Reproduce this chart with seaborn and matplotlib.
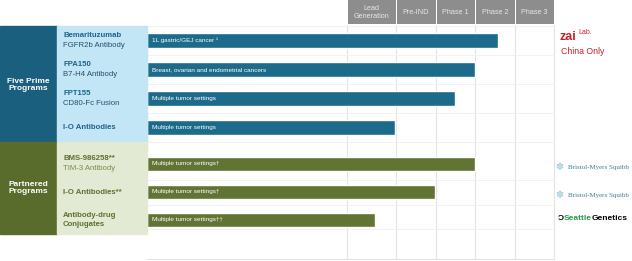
import numpy as np
import pandas as pd
import seaborn as sns
import matplotlib.pyplot as plt
from matplotlib.patches import Rectangle

# ---- data ----
stages = ["Lead\nGeneration", "Pre-IND", "Phase 1", "Phase 2", "Phase 3"]
# stage column edges, in pixels from the start of the indication area
stage_edges = [200, 249, 289, 328, 368, 407]

fp_names = ["Bemarituzumab", "FPA150", "FPT155", "I-O Antibodies"]
fp_subs = ["FGFR2b Antibody", "B7-H4 Antibody", "CD80-Fc Fusion", ""]
fp_ind = ["1L gastric/GEJ cancer \u00b9", "Breast, ovarian and endometrial cancers",
          "Multiple tumor settings", "Multiple tumor settings"]
fp_end = [351, 328, 308, 248]

pp_names = ["BMS-986258**", "I-O Antibodies**", "Antibody-drug\nConjugates"]
pp_subs = ["TIM-3 Antibody", "", ""]
pp_ind = ["Multiple tumor settings\u2020", "Multiple tumor settings\u2020",
          "Multiple tumor settings\u2020\u2020"]
pp_end = [328, 288, 228]

# ---- style ----
W, H = 632, 261
blue_dark, blue_bar, blue_light = "#1a5f7e", "#1d6b8b", "#c3e6f6"
green_dark, green_bar, green_light = "#5a6c2c", "#617434", "#e2ead4"
grid = "#e3e3e3"
sns.set_style("white")
plt.rcParams["font.family"] = ["Liberation Sans", "DejaVu Sans"]

fig = plt.figure(figsize=(W / 100, H / 100), dpi=100)


def px_axes(x0, y0, x1, y1):
    return fig.add_axes([x0 / W, 1 - y1 / H, (x1 - x0) / W, (y1 - y0) / H])


def box(x0, y0, x1, y1, color):
    fig.patches.append(Rectangle((x0 / W, 1 - y1 / H), (x1 - x0) / W, (y1 - y0) / H,
                                 transform=fig.transFigure, color=color, zorder=0))


# left group boxes
box(0, 26, 57, 142, blue_dark)
box(57, 26, 147, 142, blue_light)
box(0, 142, 57, 234, green_dark)
box(57, 142, 147, 234, green_light)
fig.text(28 / W, 1 - 85 / H, "Five Prime\nPrograms", color="white", fontsize=6,
         fontweight="bold", ha="center", va="center", linespacing=1.0)
fig.text(28 / W, 1 - 188 / H, "Partnered\nPrograms", color="white", fontsize=6,
         fontweight="bold", ha="center", va="center", linespacing=1.0)

# background grid axes (pixel units from x=147)
bg = px_axes(147, 0, 632, 261)
bg.set_xlim(0, 485)
bg.set_ylim(261, 0)
bg.axis("off")
for e in stage_edges:
    bg.plot([e, e], [25, 259], color=grid, lw=0.8, zorder=0)
bg.plot([0, stage_edges[-1]], [259, 259], color=grid, lw=0.8, zorder=0)
for y in [26, 55, 84, 113, 142, 180, 205, 229]:
    bg.plot([0, stage_edges[-1]], [y, y], color="#f0f0f0", lw=0.6, zorder=0)
for i, s in enumerate(stages):
    x0, x1 = stage_edges[i], stage_edges[i + 1]
    bg.add_patch(Rectangle((x0 + 0.5, 0), x1 - x0 - 1, 24, color="#8d8d8d", lw=0))
    bg.text((x0 + x1) / 2, 12.5, s, color="#e6e6e6", fontsize=5.2, ha="center",
            va="center", linespacing=1.1)


def draw_group(y0, y1, names, subs, inds, ends, bar_color, name_color, sub_color, hgt):
    ax = px_axes(147, y0, 632, y1)
    df = pd.DataFrame({"program": names, "end": ends})
    sns.barplot(data=df, x="end", y="program", color=bar_color, width=hgt,
                saturation=1, ax=ax)
    ax.set_xlim(0, 485)
    ax.axis("off")
    ax.patch.set_alpha(0)
    for i, t in enumerate(inds):
        ax.text(5, i, t, color="white", fontsize=4.6, va="center", ha="left")
    n = len(names)
    for i, (nm, sb) in enumerate(zip(names, subs)):
        yc = y0 + (y1 - y0) * (i + 0.5) / n
        if sb:
            fig.text(63 / W, 1 - (yc - 5) / H, nm, color=name_color, fontsize=5.6,
                     fontweight="bold", va="center")
            fig.text(63 / W, 1 - (yc + 5) / H, sb, color=sub_color, fontsize=5.6,
                     va="center")
        else:
            fig.text(63 / W, 1 - yc / H, nm, color=name_color, fontsize=5.6,
                     fontweight="bold", va="center", linespacing=1.3)
    return ax


draw_group(26, 142, fp_names, fp_subs, fp_ind, fp_end, blue_bar, "#1d6488", "#24506a", 0.53)
draw_group(150, 234, pp_names, pp_subs, pp_ind, pp_end, green_bar, "#5e7030", "#7a8a4c", 0.52)

# partner logos as text
red = "#c8202b"
zai = fig.text(560 / W, 1 - 37 / H, "zai", color=red, fontsize=9, fontweight="bold",
               va="center")
bg.annotate("Lab.", xy=(1, 0.55), xycoords=zai, xytext=(1, 0), textcoords="offset points",
            color=red, fontsize=5, va="bottom", ha="left", annotation_clip=False)
fig.text(561 / W, 1 - 51 / H, "China Only", color=red, fontsize=6.3, va="center")
for y in [167, 195]:
    fig.text(555 / W, 1 - y / H, "\u273d", color="#a9cfe0", fontsize=7, va="center",
             family="DejaVu Sans")
    fig.text(568 / W, 1 - y / H, "Bristol-Myers Squibb", color="#3d7d92", fontsize=5,
             va="center", family="Liberation Serif")
fig.text(558 / W, 1 - 219 / H, "\u0186", color="black", fontsize=6, fontweight="bold",
         va="center")
sea = fig.text(564 / W, 1 - 219 / H, "Seattle", color="#2c9a4a", fontsize=6,
               fontweight="bold", va="center")
bg.annotate("Genetics", xy=(1, 0.5), xycoords=sea, color="black", fontsize=6,
            fontweight="bold", va="center", ha="left", annotation_clip=False)

fig.savefig("out.png", dpi=100)
